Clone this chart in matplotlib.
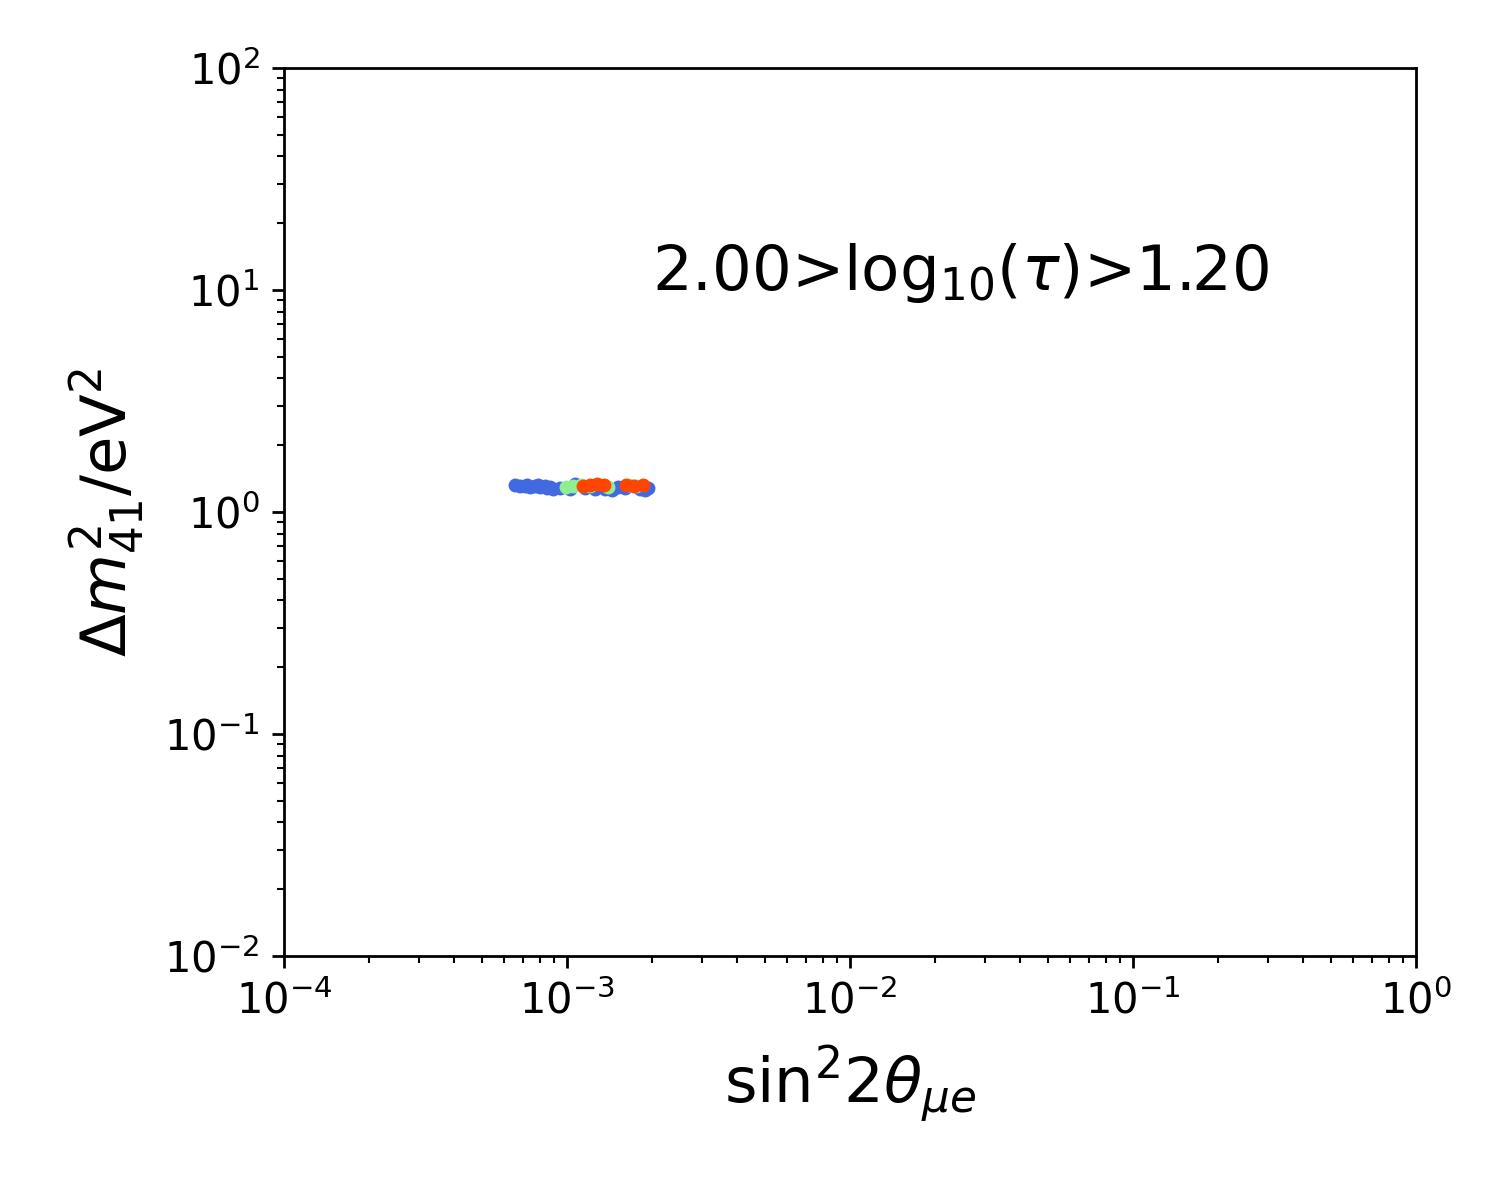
import matplotlib
matplotlib.use('Agg')
import matplotlib.pyplot as plt

plt.close('all')

# sin^2 2theta_mue, dm41^2 (eV^2)
blue_x = [6.55e-4, 6.82e-4, 7.10e-4, 7.40e-4, 7.71e-4, 8.03e-4, 8.36e-4, 8.71e-4,
          8.92e-4, 9.45e-4, 1.025e-3, 1.067e-3, 1.158e-3, 1.256e-3, 1.308e-3,
          1.362e-3, 1.442e-3, 1.514e-3, 1.603e-3, 1.811e-3, 1.887e-3, 1.933e-3,
          7.25e-4, 7.9e-4, 8.5e-4]
blue_y = [1.323, 1.310, 1.310, 1.296, 1.310, 1.296, 1.310, 1.296,
          1.270, 1.283, 1.270, 1.337, 1.283, 1.270, 1.310,
          1.270, 1.256, 1.296, 1.283, 1.270, 1.256, 1.283,
          1.323, 1.323, 1.283]

green_x = [9.9e-4, 1.05e-3, 1.12e-3, 1.21e-3, 1.40e-3, 1.66e-3, 1.76e-3]
green_y = [1.296, 1.310, 1.323, 1.310, 1.296, 1.323, 1.310]

red_x = [1.14e-3, 1.21e-3, 1.28e-3, 1.35e-3, 1.62e-3, 1.72e-3, 1.85e-3]
red_y = [1.310, 1.323, 1.337, 1.323, 1.323, 1.310, 1.323]

tau_hi = 2.00
tau_lo = 1.20

fig = plt.figure(figsize=(6, 4.8), dpi=250)
ax = fig.add_axes([0.1893, 0.2033, 0.7547, 0.74])

ax.scatter(blue_x, blue_y, s=9, c='royalblue', zorder=2)
ax.scatter(green_x, green_y, s=9, c='lightgreen', zorder=3)
ax.scatter(red_x, red_y, s=9, c='orangered', zorder=4)

ax.set_xscale('log')
ax.set_yscale('log')
ax.set_xlim(1e-4, 1)
ax.set_ylim(1e-2, 1e2)
ax.tick_params(labelsize=12)
ax.set_xlabel(r'sin$^2 2\theta_{\mu e}$', fontsize=18, labelpad=6)
ax.set_ylabel(r'$\Delta m^2_{41}$/eV$^2$', fontsize=18, labelpad=5)
ax.text(2e-3, 10, r'%.2f>log$_{10}(\tau)$>%.2f' % (tau_hi, tau_lo), fontsize=18)

fig.savefig('out.png', dpi=250)
